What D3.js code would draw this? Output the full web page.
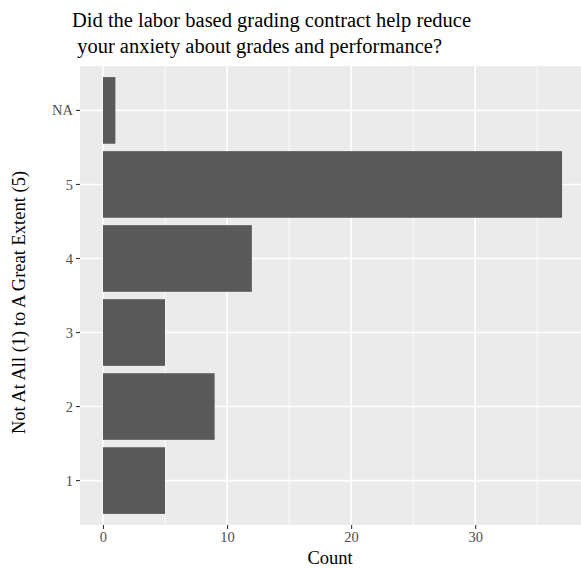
<!DOCTYPE html>
<html><head><meta charset="utf-8">
<script src="https://cdn.jsdelivr.net/npm/d3@7"></script>
<style>body{margin:0;background:#fff}svg{display:block}</style>
</head><body>
<script>
const categories = ["1","2","3","4","5","NA"];
const counts = [5, 9, 5, 12, 37, 1];
const xTicks = [0, 10, 20, 30];
const xMinor = [5, 15, 25, 35];
const titleLines = ["Did the labor based grading contract help reduce", " your anxiety about grades and performance?"];

const W = 581, H = 569;
const panel = {left: 80, top: 66, right: 585, bottom: 525};
const svg = d3.select("body").append("svg").attr("width", W).attr("height", H);
const font = "'Liberation Serif', 'Times New Roman', serif";

const x = d3.scaleLinear().domain([-37*0.05, 37*1.05]).range([panel.left, panel.right]);
const y = d3.scaleBand().domain(categories.slice().reverse()).range([panel.top, panel.bottom]).paddingOuter(0.1).paddingInner(0);
const yc = c => y(c) + y.bandwidth()/2;

svg.append("rect").attr("x", panel.left).attr("y", panel.top)
  .attr("width", panel.right - panel.left).attr("height", panel.bottom - panel.top).attr("fill", "#EBEBEB");

const g = svg.append("g");
xMinor.forEach(v => g.append("line").attr("x1", x(v)).attr("x2", x(v)).attr("y1", panel.top).attr("y2", panel.bottom).attr("stroke", "#fff").attr("stroke-width", 0.8));
xTicks.forEach(v => g.append("line").attr("x1", x(v)).attr("x2", x(v)).attr("y1", panel.top).attr("y2", panel.bottom).attr("stroke", "#fff").attr("stroke-width", 1.6));
categories.forEach(c => g.append("line").attr("x1", panel.left).attr("x2", panel.right).attr("y1", yc(c)).attr("y2", yc(c)).attr("stroke", "#fff").attr("stroke-width", 1.6));

const step = y.step();
svg.selectAll("rect.bar").data(categories).enter().append("rect").attr("class", "bar")
  .attr("x", x(0)).attr("y", c => yc(c) - step*0.45)
  .attr("width", (c, i) => x(counts[i]) - x(0)).attr("height", step*0.9)
  .attr("fill", "#595959");

const xa = svg.append("g").attr("transform", `translate(0,${panel.bottom})`)
  .call(d3.axisBottom(x).tickValues(xTicks).tickSize(4).tickPadding(3));
const ya = svg.append("g").attr("transform", `translate(${panel.left},0)`)
  .call(d3.axisLeft(y).tickSize(4).tickPadding(3));
[xa, ya].forEach(a => {
  a.select(".domain").remove();
  a.selectAll(".tick line").attr("stroke", "#333").attr("stroke-width", 1.1);
  a.selectAll(".tick text").attr("fill", "#4D4D4D").style("font-family", font).style("font-size", "14.5px");
});
ya.selectAll(".tick text").attr("dy", "0.35em");

svg.append("text").attr("x", 330).attr("y", 564).attr("text-anchor", "middle")
  .style("font-family", font).style("font-size", "18.5px").attr("fill", "#000").text("Count");
svg.append("text").attr("transform", `translate(25,${(panel.top+panel.bottom)/2 + 7}) rotate(-90)`).attr("text-anchor", "middle")
  .style("font-family", font).style("font-size", "18.5px").attr("fill", "#000").text("Not At All (1) to A Great Extent (5)");

titleLines.forEach((t, i) => svg.append("text").attr("x", 72).attr("y", 27 + i*26)
  .style("font-family", font).style("font-size", "20.5px").attr("xml:space", "preserve").style("white-space", "pre").attr("fill", "#000").text(t));
</script>
</body></html>
